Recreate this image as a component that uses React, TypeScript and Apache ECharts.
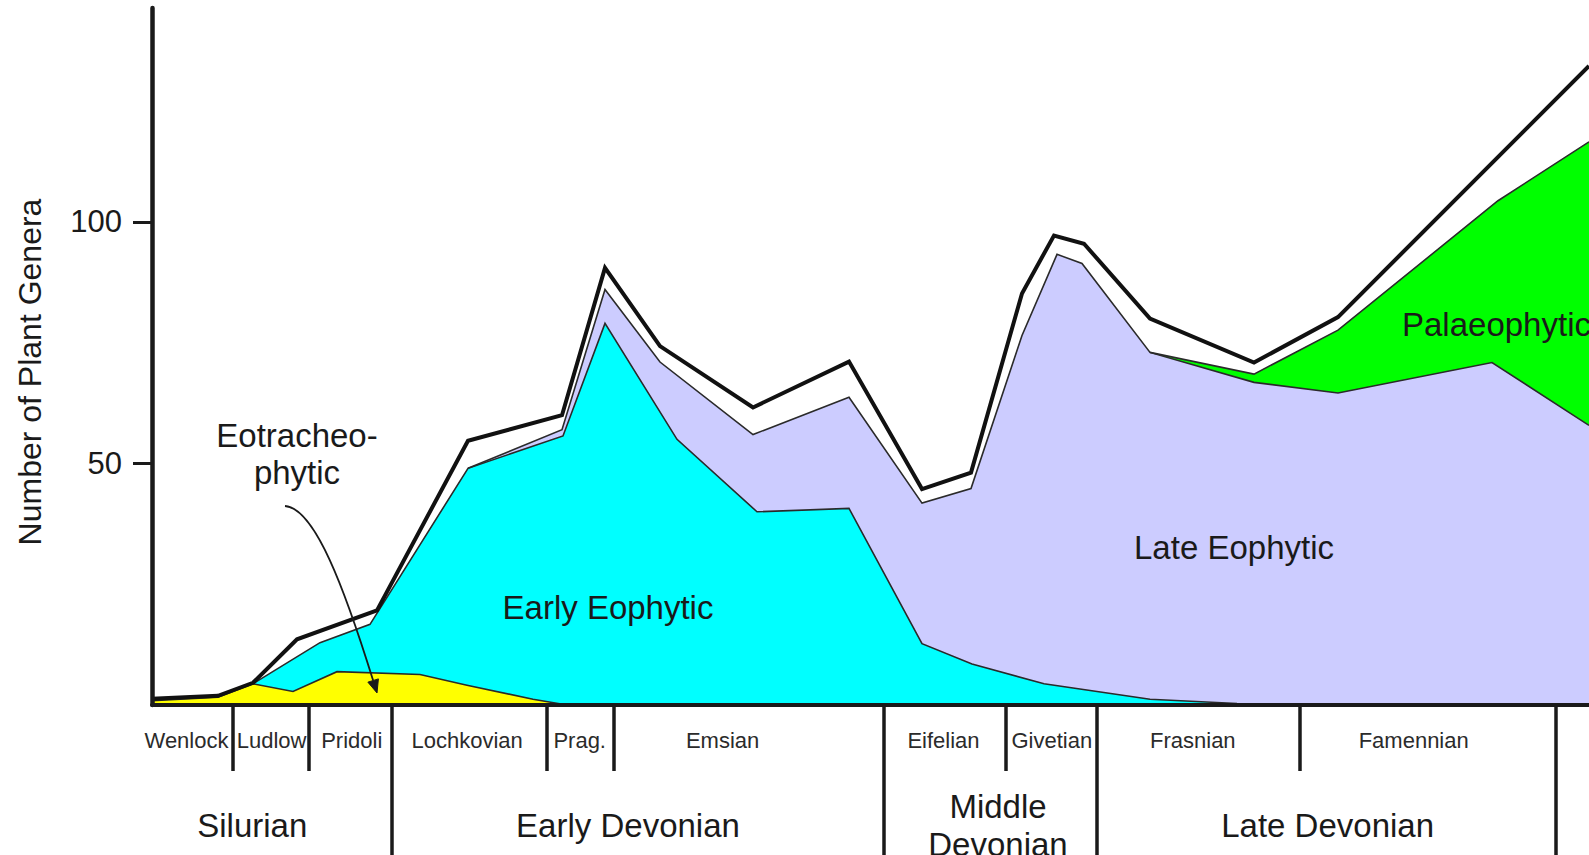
import React, { useEffect, useRef } from "react";
import * as echarts from "echarts";

const FONT = '"Liberation Sans", Arial, Helvetica, sans-serif';
const INK = "#1a1a1a";

// Horizontal positions are timeline units (0 = left edge of the plot).
// Values are cumulative numbers of plant genera (top edge of each stacked band).
const totalX = [0, 66, 101, 145, 225, 316, 410, 453, 508, 601, 697, 770, 819, 870, 902, 932, 998, 1102, 1186, 1437];
const totalY = [1.3, 1.9, 4.6, 13.6, 19.6, 54.7, 60, 90.5, 74.3, 61.6, 71.1, 44.7, 48.1, 85.2, 97.2, 95.5, 80, 70.9, 80.3, 132.3];

const palaeoX = [998, 1102, 1186, 1346, 1437];
const palaeoY = [73, 68.5, 77.6, 104.4, 116.6];

const lateEoX = [316, 410, 453, 508, 601, 697, 770, 819, 870, 905, 930, 998, 1102, 1186, 1340, 1437];
const lateEoY = [49, 57, 86, 71, 56, 63.7, 41.8, 44.8, 76.5, 93.3, 91.4, 73, 66.8, 64.6, 70.9, 57.9];

const earlyEoX = [101, 168, 218, 316, 411, 453, 525, 605, 697, 770, 820, 892, 998, 1085, 1148];
const earlyEoY = [4.4, 12.9, 16.7, 49, 55.7, 79, 55, 40, 40.7, 12.7, 8.5, 4.4, 1.2, 0.3, 0];

const eotracheoX = [0, 66, 101, 141, 185, 268, 315, 381, 415];
const eotracheoY = [0.9, 1.6, 4.4, 2.8, 6.9, 6.3, 4.1, 1.2, 0];

const yTicks = [50, 100];

// Stratigraphic stages (end boundaries in timeline units) and their label anchors
const stageNames = ["Wenlock", "Ludlow", "Pridoli", "Lochkovian", "Prag.", "Emsian", "Eifelian", "Givetian", "Frasnian", "Famennian"];
const stageEnds = [81, 157, 240, 395, 462, 732, 854, 945, 1148, 1404];
const stageLabelAt = [34.5, 119.6, 199.7, 315.2, 427.7, 570.6, 791.5, 899.8, 1040.8, 1261.7];

const epochNames = ["Silurian", "Early Devonian", "Middle\nDevonian", "Late Devonian"];
const epochEnds = [240, 732, 945, 1404];
const epochLabelAt = [100.3, 476, 846, 1175.6];

// Floras: label anchors [timeline unit, genera]
const floraNames = ["Early Eophytic", "Late Eophytic", "Palaeophytic", "Eotracheo-\nphytic"];
const floraLabelAt = [[456, 20.1], [1082, 32.7], [1250, 78.8], [145, 52]];
const arrowCurve = [[133, 41.2], [163, 40.8], [193, 23.8], [225, 2.5]];

function area(name: string, xs: number[], ys: number[], fill: string) {
  return {
    name,
    type: "line",
    data: xs.map((x, i) => [x, ys[i]]),
    symbol: "none",
    showSymbol: false,
    smooth: false,
    silent: true,
    z: 2,
    lineStyle: { color: "#2a2a2a", width: 1.6, join: "miter", miterLimit: 10 },
    areaStyle: { color: fill, opacity: 1 },
  };
}

const option: any = {
  animation: false,
  backgroundColor: "#ffffff",
  grid: { left: 152, right: 0, top: 8, bottom: 150, containLabel: false },
  xAxis: {
    type: "value",
    min: 0,
    max: 1437,
    z: 10,
    axisLine: { show: true, onZero: false, lineStyle: { color: INK, width: 4 } },
    axisTick: { show: false },
    axisLabel: { show: false },
    splitLine: { show: false },
  },
  yAxis: {
    type: "value",
    min: 0,
    max: 144.3,
    z: 10,
    axisLine: { show: true, onZero: false, lineStyle: { color: INK, width: 4.5 } },
    axisTick: { show: true, length: 19, lineStyle: { color: INK, width: 3 }, customValues: yTicks },
    axisLabel: {
      show: true,
      customValues: yTicks,
      margin: 30,
      fontSize: 31,
      fontFamily: FONT,
      color: INK,
    },
    splitLine: { show: false },
  },
  series: [
    area("Palaeophytic", palaeoX, palaeoY, "#00ff00"),
    area("Late Eophytic", lateEoX, lateEoY, "#ccccff"),
    area("Early Eophytic", earlyEoX, earlyEoY, "#00ffff"),
    area("Eotracheophytic", eotracheoX, eotracheoY, "#ffff00"),
    {
      name: "Total",
      type: "line",
      data: totalX.map((x, i) => [x, totalY[i]]),
      symbol: "none",
      showSymbol: false,
      smooth: false,
      silent: true,
      z: 5,
      lineStyle: { color: "#111111", width: 4, join: "miter", miterLimit: 10 },
    },
  ],
};

function text(x: number, y: number, str: string, size: number, align: string, extra: any = {}) {
  return {
    type: "text",
    x,
    y,
    z: 30,
    silent: true,
    ...extra,
    style: {
      text: str,
      fontSize: size,
      fontFamily: FONT,
      fill: extra.fill || INK,
      align,
      verticalAlign: "middle",
      textAlign: align,
      textVerticalAlign: "middle",
      lineHeight: extra.lineHeight || Math.round(size * 1.15),
    },
  };
}

function buildGraphics(chart: any) {
  const px = (u: number, v: number) => chart.convertToPixel({ gridIndex: 0 }, [u, v]) as number[];
  const base = px(0, 0)[1];
  const els: any[] = [];

  // stage boundaries
  stageEnds.forEach((u) => {
    const x = px(u, 0)[0];
    const long = epochEnds.indexOf(u) >= 0;
    els.push({
      type: "line",
      z: 25,
      silent: true,
      shape: { x1: x, y1: base, x2: x, y2: long ? 860 : base + 66 },
      style: { stroke: INK, lineWidth: 3.5 },
    });
  });

  stageNames.forEach((n, i) => {
    els.push(text(px(stageLabelAt[i], 0)[0], base + 35, n, 22, "center", { fill: "#2b2b2b" }));
  });

  epochNames.forEach((n, i) => {
    els.push(text(px(epochLabelAt[i], 0)[0], base + 120, n, 33, "center", { lineHeight: 38 }));
  });

  floraNames.forEach((n, i) => {
    const p = px(floraLabelAt[i][0], floraLabelAt[i][1]);
    els.push(text(p[0], p[1], n, 33, n === "Palaeophytic" ? "left" : "center", { lineHeight: 37 }));
  });

  // y axis name
  els.push(text(30, 372, "Number of Plant Genera", 32, "center", { rotation: Math.PI / 2 }));

  // annotation arrow
  const c = arrowCurve.map((p) => px(p[0], p[1]));
  const dx = c[3][0] - c[2][0];
  const dy = c[3][1] - c[2][1];
  const len = Math.sqrt(dx * dx + dy * dy);
  const ux = dx / len;
  const uy = dy / len;
  const headL = 13;
  const headW = 5.5;
  const bx = c[3][0] - ux * headL;
  const by = c[3][1] - uy * headL;
  els.push({
    type: "bezierCurve",
    z: 30,
    silent: true,
    shape: {
      x1: c[0][0], y1: c[0][1],
      cpx1: c[1][0], cpy1: c[1][1],
      cpx2: c[2][0], cpy2: c[2][1],
      x2: bx, y2: by,
    },
    style: { stroke: INK, lineWidth: 1.8, fill: null },
  });
  els.push({
    type: "polygon",
    z: 30,
    silent: true,
    shape: {
      points: [
        [c[3][0], c[3][1]],
        [bx - uy * headW, by + ux * headW],
        [bx + uy * headW, by - ux * headW],
      ],
    },
    style: { fill: INK, stroke: INK, lineWidth: 1 },
  });
  return els;
}

export default function App() {
  const ref = useRef<HTMLDivElement>(null);
  useEffect(() => {
    const el = ref.current;
    if (!el) return;
    const chart = echarts.init(el, null, { renderer: "svg" });
    chart.setOption(option);
    chart.setOption({ graphic: { elements: buildGraphics(chart) } });
    return () => chart.dispose();
  }, []);
  return (
    <div
      ref={ref}
      style={{ position: "fixed", left: 0, top: 0, width: "1589px", height: "855px", background: "#ffffff" }}
    />
  );
}
